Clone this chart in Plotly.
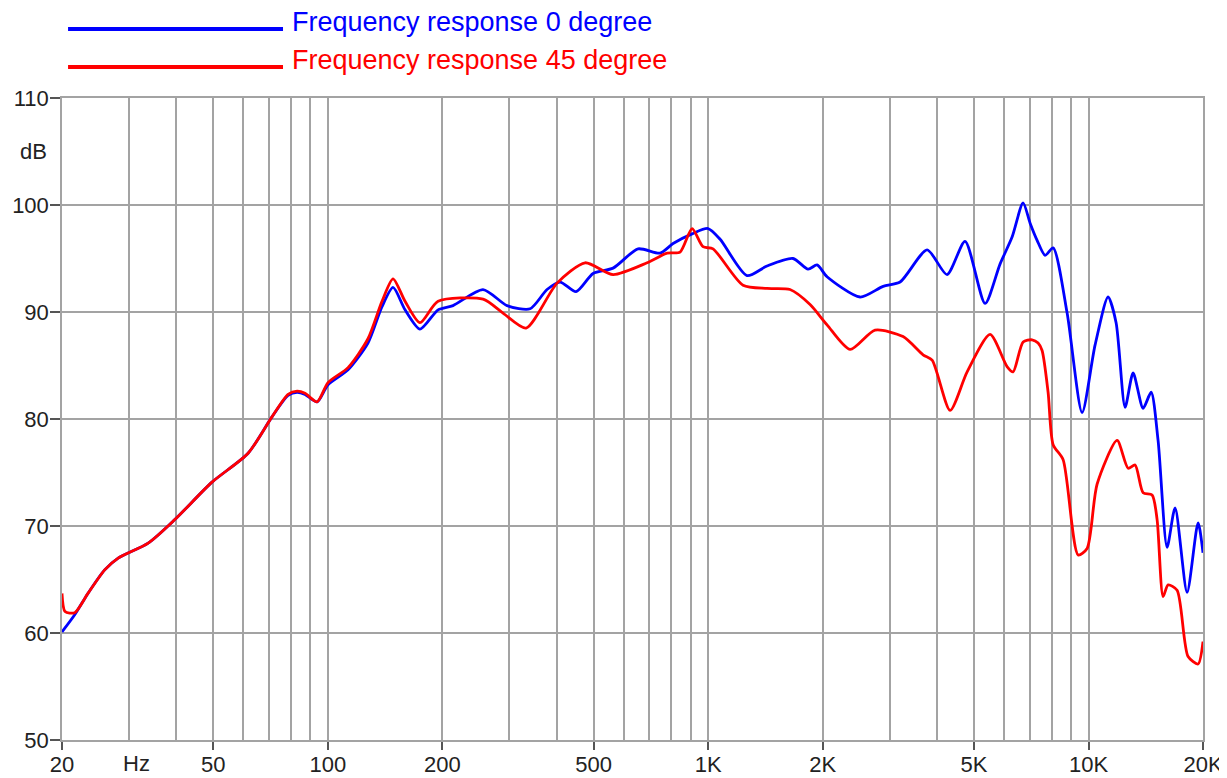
import plotly.graph_objects as go

# ---- data ----
freq_0 = [20, 21.6, 23.4, 25.9, 28.1, 33.7, 39.6, 49.6, 61.7, 71.3, 78.6, 83.0, 87.1, 93.7,
          100.1, 113, 127.5, 138.8, 148.4, 159.6, 174.7, 194.9, 213.4, 255.9, 295.9, 340.2,
          377, 407.9, 449.4, 498.1, 562.3, 654.2, 747.3, 808.6, 907.2, 999, 1075, 1265, 1428,
          1671, 1831, 1933, 2054, 2508, 2884, 3196, 3764, 4246, 4736, 5346, 5856, 6296, 6730,
          7022, 7326, 7690, 8072, 8786, 9620, 10404, 11258, 11818, 12480, 13100, 13918, 14608,
          15238, 16092, 16890, 18162, 19412, 20000]
db_0 = [60.1, 61.7, 63.7, 65.9, 67.0, 68.4, 70.6, 74.1, 76.8, 80.2, 82.2, 82.5, 82.3, 81.6,
        83.2, 84.6, 87.1, 90.5, 92.3, 90.2, 88.4, 90.2, 90.6, 92.1, 90.6, 90.3,
        92.1, 92.8, 91.9, 93.6, 94.1, 95.9, 95.5, 96.4, 97.3, 97.8, 96.8, 93.4, 94.3,
        95.0, 94.0, 94.4, 93.3, 91.4, 92.4, 92.8, 95.8, 93.5, 96.6, 90.8, 94.5, 97.0, 100.2,
        98.3, 96.7, 95.3, 96.0, 89.9, 80.6, 86.9, 91.4, 89.0, 81.1, 84.3, 81.0, 82.5,
        78.0, 68.0, 71.7, 63.8, 70.3, 67.5]

freq_45 = [20, 20.37, 21.6, 23.4, 25.9, 28.1, 33.7, 39.6, 49.6, 61.7, 71.3, 78.6, 83.0, 87.1,
           93.7, 100.1, 113, 127.5, 138.8, 148.4, 159.6, 174.7, 194.9, 255.9, 288.8, 332,
           400.5, 474.6, 562.3, 690.8, 779.8, 843.6, 907.2, 969.2, 1030, 1235, 1428, 1641,
           1853, 2054, 2362, 2746, 3254, 3673, 3880, 4326, 4796, 5510, 6107, 6334, 6730, 7106,
           7370, 7550, 7830, 8072, 8576, 9390, 9916, 10532, 11890, 12710, 13260, 13918, 14696,
           15148, 15708, 16190, 17098, 18272, 19412, 20000]
db_45 = [63.7, 62.0, 61.9, 63.7, 65.9, 67.0, 68.4, 70.6, 74.1, 76.8, 80.2, 82.3, 82.6, 82.4,
         81.6, 83.4, 84.8, 87.5, 91.0, 93.1, 91.0, 89.0, 91.0, 91.2, 89.9, 88.5,
         92.7, 94.6, 93.5, 94.6, 95.5, 95.6, 97.8, 96.1, 95.9, 92.5, 92.2, 92.1,
         90.7, 88.8, 86.5, 88.3, 87.7, 86.0, 85.5, 80.8, 84.4, 87.9, 84.9, 84.4, 87.2, 87.4,
         87.1, 86.4, 82.5, 77.6, 76.2, 67.3, 67.9, 73.9, 78.0, 75.4, 75.7, 73.1, 72.9,
         70.6, 63.4, 64.5, 64.0, 57.8, 57.1, 59.2]

series_names = ["Frequency response 0 degree", "Frequency response 45 degree"]
series_colors = ["#0000ff", "#ff0000"]

x_tickvals = [20, 50, 100, 200, 500, 1000, 2000, 5000, 10000, 20000]
x_ticktext = ["20", "50", "100", "200", "500", "1K", "2K", "5K", "10K", "20K"]
x_minor = [30, 40, 60, 70, 80, 90, 300, 400, 600, 700, 800, 900,
           3000, 4000, 6000, 7000, 8000, 9000]
y_tickvals = [50, 60, 70, 80, 90, 100, 110]

FONT = "Liberation Sans, Arial, sans-serif"
GRID = "#a3a3a3"
TXT = "#222222"

fig = go.Figure()
for f, d, name, col in [(freq_0, db_0, series_names[0], series_colors[0]),
                        (freq_45, db_45, series_names[1], series_colors[1])]:
    fig.add_trace(go.Scatter(x=f, y=d, mode="lines", name=name,
                             line=dict(color=col, width=2.8, shape="spline", smoothing=0.7),
                             showlegend=False))

fig.update_xaxes(type="log", range=[1.30103, 4.30103], automargin=False,
                 tickvals=x_tickvals, ticktext=x_ticktext,
                 showgrid=True, gridcolor=GRID, gridwidth=1.5,
                 ticks="outside", ticklen=8, tickwidth=1.5, tickcolor="#555",
                 ticklabelstandoff=-4,
                 tickfont=dict(family=FONT, size=22, color=TXT),
                 minor=dict(tickvals=x_minor, showgrid=True, gridcolor=GRID, gridwidth=1.5, ticks=""),
                 showline=True, linecolor=GRID, linewidth=1.5, mirror=True, zeroline=False)
fig.update_yaxes(range=[50, 110], tickvals=y_tickvals, automargin=False,
                 showgrid=True, gridcolor=GRID, gridwidth=1.5,
                 ticks="outside", ticklen=10, tickwidth=1.5, tickcolor="#555",
                 ticklabelstandoff=-3,
                 tickfont=dict(family=FONT, size=22, color=TXT),
                 showline=True, linecolor=GRID, linewidth=1.5, mirror=True, zeroline=False)

# axis unit labels
fig.add_annotation(x=1.47712, y=0, xref="x", yref="paper", xshift=8, yshift=-23, text="Hz",
                   showarrow=False, font=dict(family=FONT, size=22, color=TXT),
                   xanchor="center", yanchor="middle")
fig.add_annotation(x=0, y=105, xref="paper", yref="y", xshift=-13, text="dB",
                   showarrow=False, font=dict(family=FONT, size=22, color=TXT),
                   xanchor="right", yanchor="middle")

# custom legend (lines + coloured text) above the plot
leg_y = [1.1185, 1.0594]
for name, col, yy in zip(series_names, series_colors, leg_y):
    fig.add_shape(type="line", xref="paper", yref="paper",
                  x0=0.0053, x1=0.1937, y0=yy - 0.011, y1=yy - 0.011,
                  line=dict(color=col, width=4))
    fig.add_annotation(x=0.1998, y=yy, xref="paper", yref="paper", text=name,
                       showarrow=False, xanchor="left", yanchor="middle",
                       font=dict(family=FONT, size=27, color=col))

# page body has an 8px margin; offset the figure so the plot area lands where the reference has it
fig.update_layout(width=1219, height=770, margin=dict(l=54, r=24, t=90, b=38),
                  paper_bgcolor="white", plot_bgcolor="white",
                  font=dict(family=FONT))

fig.write_html("out.html")
